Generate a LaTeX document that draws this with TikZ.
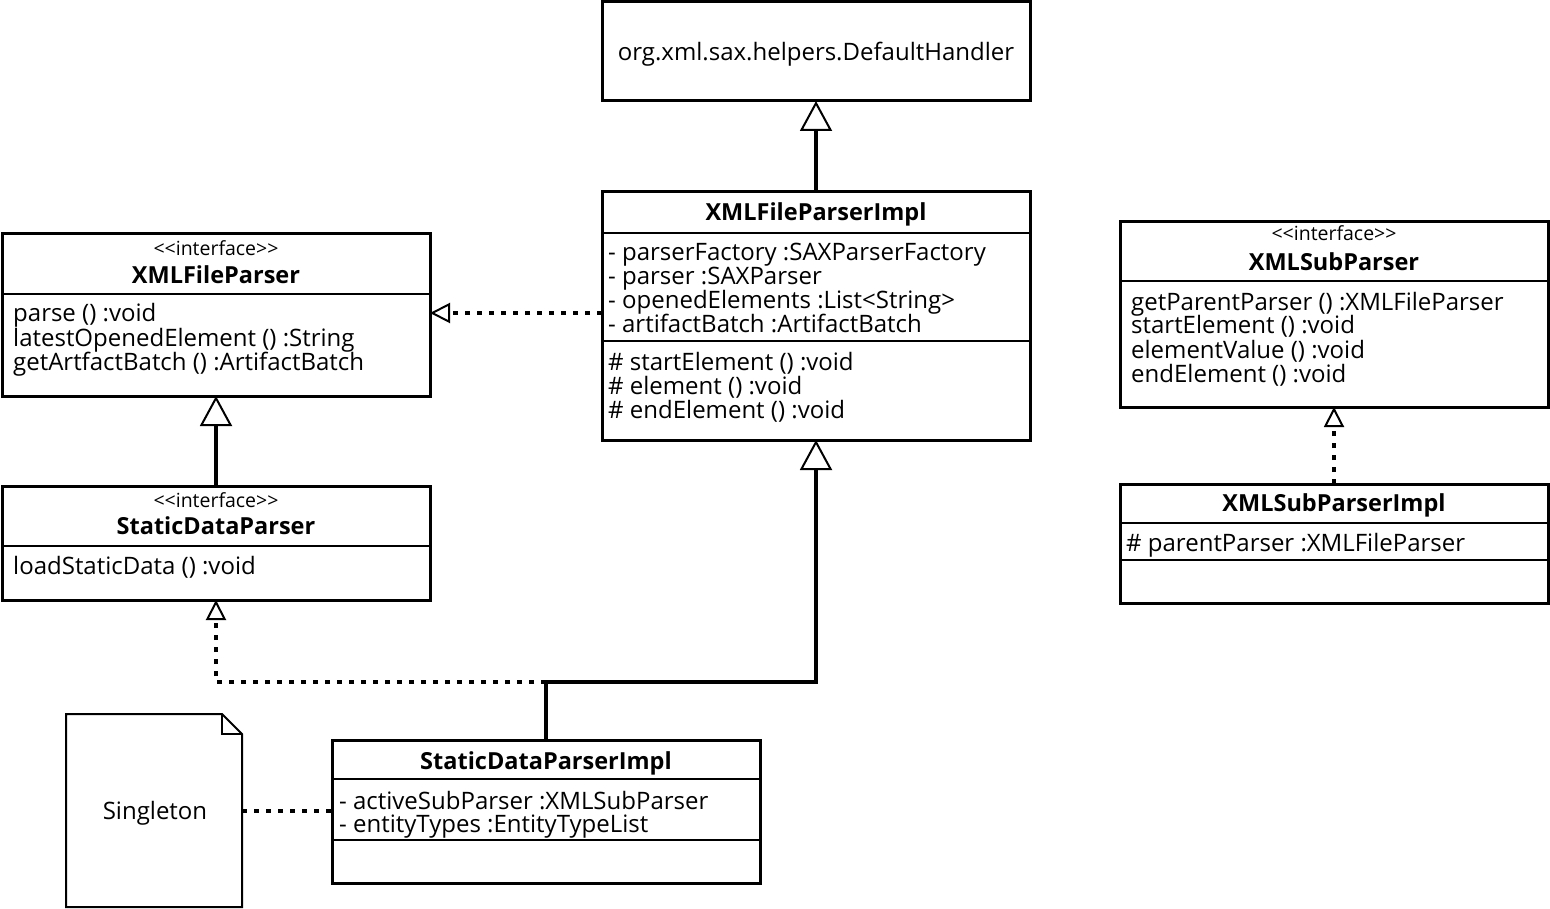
\documentclass[tikz,border=0pt]{standalone}
\usepackage{fontspec}
\setmainfont{Open Sans}
\usetikzlibrary{arrows.meta}

\tikzset{
  classbox/.style={draw, line width=3pt, rectangle, inner sep=0pt, outer sep=0pt, fill=white},
  sep/.style={line width=2pt},
  txt/.style={anchor=base west, inner sep=0pt, font=\fontsize{24}{24}\selectfont},
  ctxt/.style={anchor=base, inner sep=0pt, font=\fontsize{24}{24}\selectfont},
  ttl/.style={anchor=base, inner sep=0pt, font=\fontsize{23.5}{24}\selectfont\bfseries},
  stereo/.style={anchor=base, inner sep=0pt, font=\fontsize{19.5}{20}\selectfont},
  generalize/.style={line width=4pt, -{Triangle[open, length=30pt, width=32pt, line width=2pt]}},
  realize/.style={line width=4pt, dash pattern=on 5pt off 7pt,
    -{Triangle[open, length=20pt, width=20pt, line width=2pt, sep=0pt]}},
  dep/.style={line width=4pt, dash pattern=on 5pt off 7pt},
}

\begin{document}
\begin{tikzpicture}[x=1pt, y=-1pt]
\useasboundingbox (0,0) rectangle (1550,909);

% --- org.xml.sax.helpers.DefaultHandler
\node[classbox, minimum width=428pt, minimum height=99pt] (dh) at (816,51.5) {};
\node[ctxt] (dhT) at (816,61) {org.xml.sax.helpers.DefaultHandler};

% --- XMLFileParserImpl
\node[classbox, minimum width=428pt, minimum height=248pt] (xfpi) at (816,316) {};
\draw[sep] (xfpi.west |- 0,233) -- (xfpi.east |- 0,233);
\draw[sep] (xfpi.west |- 0,341) -- (xfpi.east |- 0,341);
\node[ttl] (xfpiT) at (816,220.5) {XMLFileParserImpl};
\node[txt] (xfpiA1) at (608,260.5) {- parserFactory :SAXParserFactory};
\node[txt] (xfpiA2) at (608,284.5) {- parser :SAXParser};
\node[txt] (xfpiA3) at (608,308.5) {- openedElements :List<String>};
\node[txt] (xfpiA4) at (608,332.5) {- artifactBatch :ArtifactBatch};
\node[txt] (xfpiM1) at (608,370.5) {\# startElement () :void};
\node[txt] (xfpiM2) at (608,394.5) {\# element () :void};
\node[txt] (xfpiM3) at (608,418.5) {\# endElement () :void};

% --- XMLFileParser
\node[classbox, minimum width=428pt, minimum height=162pt] (xfp) at (216,315) {};
\draw[sep] (xfp.west |- 0,294) -- (xfp.east |- 0,294);
\node[stereo] (xfpS) at (216,256) {<{}<interface>{}>};
\node[ttl] (xfpT) at (216,283.5) {XMLFileParser};
\node[txt] (xfpM1) at (13,322) {parse () :void};
\node[txt] (xfpM2) at (13,346) {latestOpenedElement () :String};
\node[txt] (xfpM3) at (13,370) {getArtfactBatch () :ArtifactBatch};

% --- StaticDataParser
\node[classbox, minimum width=428pt, minimum height=114pt] (sdp) at (216,543) {};
\draw[sep] (sdp.west |- 0,546) -- (sdp.east |- 0,546);
\node[stereo] (sdpS) at (216,507) {<{}<interface>{}>};
\node[ttl] (sdpT) at (216,534.5) {StaticDataParser};
\node[txt] (sdpM1) at (13,574) {loadStaticData () :void};

% --- StaticDataParserImpl
\node[classbox, minimum width=428pt, minimum height=143pt] (sdpi) at (546,811.5) {};
\draw[sep] (sdpi.west |- 0,779) -- (sdpi.east |- 0,779);
\node[ttl] (sdpiT) at (546,769) {StaticDataParserImpl};
\draw[sep] (sdpi.west |- 0,840) -- (sdpi.east |- 0,840);
\node[txt] (sdpiA1) at (339,809) {- activeSubParser :XMLSubParser};
\node[txt] (sdpiA2) at (339,832.5) {- entityTypes :EntityTypeList};

% --- XMLSubParser
\node[classbox, minimum width=428pt, minimum height=185pt] (xsp) at (1334,314.5) {};
\draw[sep] (xsp.west |- 0,281) -- (xsp.east |- 0,281);
\node[stereo] (xspS) at (1334,241) {<{}<interface>{}>};
\node[ttl] (xspT) at (1334,270.5) {XMLSubParser};
\node[txt] (xspM1) at (1131,310) {getParentParser () :XMLFileParser};
\node[txt] (xspM2) at (1131,334) {startElement () :void};
\node[txt] (xspM3) at (1131,358) {elementValue () :void};
\node[txt] (xspM4) at (1131,382) {endElement () :void};

% --- XMLSubParserImpl
\node[classbox, minimum width=428pt, minimum height=119pt] (xspi) at (1334,543.5) {};
\draw[sep] (xspi.west |- 0,523) -- (xspi.east |- 0,523);
\draw[sep] (xspi.west |- 0,560) -- (xspi.east |- 0,560);
\node[ttl] (xspiT) at (1334,511.5) {XMLSubParserImpl};
\node[txt] (xspiA1) at (1126,551) {\# parentParser :XMLFileParser};

% --- Singleton note with folded corner
\node[rectangle, inner sep=0pt, outer sep=0pt, minimum width=176pt, minimum height=193pt] (note) at (154,810.5) {};
\draw[line width=2pt, line join=miter]
  (note.north west) -- ([xshift=-20pt]note.north east) -- ([yshift=-20pt]note.north east)
  -- (note.south east) -- (note.south west) -- cycle;
\draw[line width=2pt]
  ([xshift=-20pt]note.north east) -- ([xshift=-20pt,yshift=-20pt]note.north east)
  -- ([yshift=-20pt]note.north east);
\node[ctxt] (noteT) at (155,819) {Singleton};

% --- connectors
\coordinate (j) at (546,682);
\draw[generalize] (xfpi.north) -- (dh.south);
\draw[generalize] (sdp.north) -- (xfp.south);
\draw[generalize] (sdpi.north) -- (j) -| (xfpi.south);
\draw[realize] (j) -| (sdp.south);
\draw[realize] ([yshift=3pt]xfpi.west) -- ([yshift=3pt]xfpi.west -| xfp.east);
\draw[realize] (xspi.north) -- (xsp.south);
\draw[dep] (note.east |- 0,811) -- (sdpi.west |- 0,811);
\end{tikzpicture}
\end{document}
